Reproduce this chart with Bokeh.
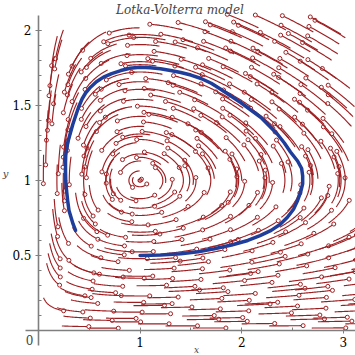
import numpy as np
from bokeh.plotting import figure
from bokeh.models import Label, FixedTicker
from bokeh.embed import file_html
from bokeh.resources import INLINE

# ---- model: dx/dt = x*(a - b*y), dy/dt = y*(-c + d*x)
model_a = [1.0]
model_b = [1.0]
model_c = [0.3]
model_d = [0.3]

# ---- highlighted trajectory
orbit_x = [1.00, 1.20, 1.40, 1.57, 1.73, 1.90, 2.06, 2.18, 2.29, 2.38, 2.45, 2.51, 2.55, 2.58, 2.60,
           2.60, 2.59, 2.55, 2.48, 2.42, 2.35, 2.27, 2.19, 2.09, 1.99, 1.89, 1.79, 1.70, 1.60,
           1.50, 1.40, 1.30, 1.20, 1.10, 1.00, 0.90, 0.81, 0.72, 0.64, 0.57, 0.512, 0.465, 0.43,
           0.395, 0.365, 0.338, 0.315, 0.29, 0.275, 0.268, 0.266, 0.266, 0.268, 0.276, 0.287,
           0.30, 0.32, 0.34, 0.365]
orbit_y = [0.500, 0.503, 0.511, 0.525, 0.545, 0.570, 0.600, 0.632, 0.667, 0.708, 0.755, 0.808, 0.867,
           0.922, 0.978, 1.030, 1.080, 1.130, 1.19, 1.25, 1.31, 1.365, 1.42, 1.47, 1.52, 1.565,
           1.61, 1.648, 1.68, 1.703, 1.72, 1.733, 1.745, 1.752, 1.755, 1.748, 1.733, 1.713,
           1.689, 1.658, 1.622, 1.585, 1.545, 1.49, 1.43, 1.375, 1.32, 1.26, 1.20, 1.167,
           1.12, 1.067, 1.00, 0.933, 0.866, 0.80, 0.755, 0.71, 0.667]

x_ticks = [0, 1, 2, 3]
x_minor = [0.5, 1.5, 2.5]
y_ticks = [0.5, 1.0, 1.5, 2.0]
y_minor = [0.1, 0.2, 0.3, 0.4, 0.6, 0.7, 0.8, 0.9, 1.1, 1.2, 1.3, 1.4, 1.6, 1.7, 1.8, 1.9, 2.0]

W, H = 355, 355
x0, x1 = -0.374, 3.12
y0, y1 = -0.167, 2.2
sx = W / (x1 - x0)
sy = H / (y1 - y0)

a, b, c, d = model_a[0], model_b[0], model_c[0], model_d[0]


def field(x, y):
    return x * (a - b * y), y * (-c + d * x)


def dirp(x, y):
    u, v = field(x, y)
    up, vp = u * sx, v * sy
    n = np.hypot(up, vp) + 1e-12
    return up / n / sx, vp / n / sy


# seeds on a staggered lattice with a small deterministic shift
seeds_x, seeds_y = [], []
nx, ny = 21, 22
for j in range(ny):
    for i in range(nx):
        jx = ((i * 7 + j * 3) % 5 - 2) * 0.03
        jy = ((i * 3 + j * 5) % 7 - 3) * 0.014
        xx = 0.08 + i * 0.15 + (0.075 if j % 2 else 0.0) + jx
        yy = 0.03 + j * 0.094 + jy
        if 0.03 < xx < 3.12 and 0.01 < yy < 2.02:
            seeds_x.append(xx)
            seeds_y.append(yy)
sxs = np.array(seeds_x)
sys_ = np.array(seeds_y)

u0, v0 = field(sxs, sys_)
speed = np.hypot(u0 * sx, v0 * sy)
L = 18 + 3.0 * np.log1p(speed)
nsteps = int(L.max())

px = sxs.copy()
py = sys_.copy()
trail_x = [px.copy()]
trail_y = [py.copy()]
for k in range(nsteps):
    k1x, k1y = dirp(px, py)
    k2x, k2y = dirp(px + 0.5 * k1x, py + 0.5 * k1y)
    k3x, k3y = dirp(px + 0.5 * k2x, py + 0.5 * k2y)
    k4x, k4y = dirp(px + k3x, py + k3y)
    px = px + (k1x + 2 * k2x + 2 * k3x + k4x) / 6
    py = py + (k1y + 2 * k2y + 2 * k3y + k4y) / 6
    trail_x.append(px.copy())
    trail_y.append(py.copy())
trail_x = np.array(trail_x)
trail_y = np.array(trail_y)

xs, ys, hx, hy = [], [], [], []
for n in range(len(sxs)):
    m = int(L[n])
    tx = trail_x[: m + 1, n]
    ty = trail_y[: m + 1, n]
    xs.append(tx[:-2])
    ys.append(ty[:-2])
    hx.append(tx[-1])
    hy.append(ty[-1])

p = figure(width=W, height=H, x_range=(x0, x1), y_range=(y0, y1),
           output_backend="svg", toolbar_location=None, min_border=0,
           background_fill_color="white", border_fill_color="white")
p.outline_line_color = None
p.grid.visible = False

red = "#9e1f22"
p.multi_line(xs, ys, line_color=red, line_width=1.15)
p.scatter(hx, hy, marker="circle", size=4, line_color=red, line_width=1.0,
          fill_color="white", fill_alpha=0.0)

p.line(orbit_x, orbit_y, line_color="#1f3d9a", line_width=3.5, line_cap="round",
       line_join="round")

axc = "#7f7f7f"
xa = p.xaxis[0]
xa.fixed_location = 0
xa.bounds = (-0.13, 3.12)
xa.ticker = FixedTicker(ticks=x_ticks, minor_ticks=x_minor)
xa.major_label_overrides = {0: ""}
ya = p.yaxis[0]
ya.fixed_location = 0
ya.bounds = (-0.1, 2.1)
ya.ticker = FixedTicker(ticks=y_ticks, minor_ticks=y_minor)
for ax in (xa, ya):
    ax.axis_line_color = axc
    ax.axis_line_width = 1.6
    ax.major_tick_line_color = axc
    ax.minor_tick_line_color = axc
    ax.major_tick_in = 3
    ax.major_tick_out = 3
    ax.minor_tick_in = 3
    ax.minor_tick_out = 0
    ax.major_label_text_font = "DejaVu Serif"
    ax.major_label_text_font_size = "12px"
    ax.major_label_text_color = "black"
    ax.major_label_standoff = 4

p.add_layout(Label(x=-0.05, y=-0.03, text="0", text_font="DejaVu Serif",
                   text_font_size="12px", text_align="right", text_baseline="top"))
p.add_layout(Label(x=W / 2 + 2, y=H - 2, x_units="screen", y_units="screen",
                   text="Lotka-Volterra model", text_font="DejaVu Serif",
                   text_font_style="italic", text_font_size="12px",
                   text_align="center", text_baseline="top"))
p.add_layout(Label(x=5, y=H - 173, x_units="screen", y_units="screen", text="y",
                   text_font="DejaVu Serif", text_font_style="italic",
                   text_font_size="10px", text_align="center", text_baseline="middle"))
p.add_layout(Label(x=196, y=1, x_units="screen", y_units="screen", text="x",
                   text_font="DejaVu Serif", text_font_style="italic",
                   text_font_size="9px", text_align="center", text_baseline="bottom"))

open("out.html", "w").write(file_html(p, INLINE))
